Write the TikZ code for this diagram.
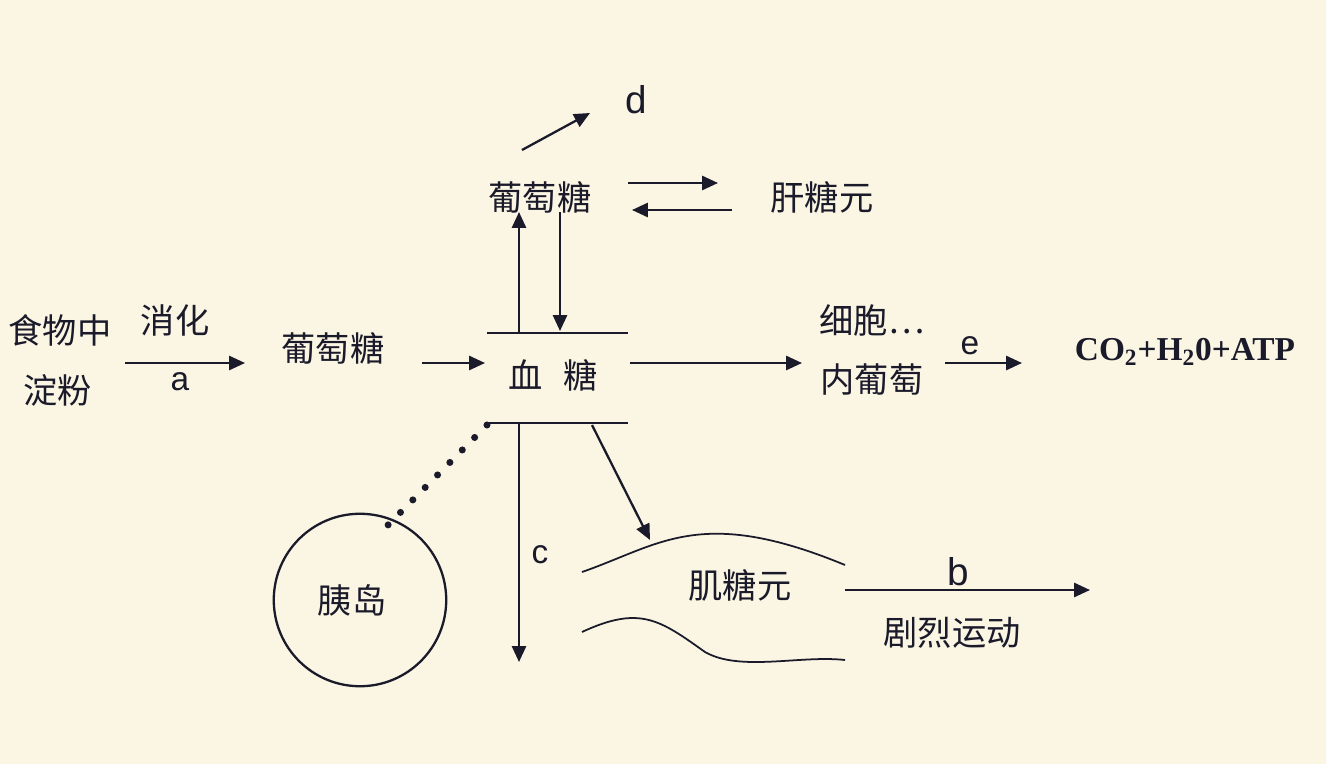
\documentclass[tikz,border=0pt]{standalone}
\usepackage{fontspec}
\setmainfont{Liberation Sans}
\newfontfamily\cjk{Noto Sans CJK SC}
\newfontfamily\serifb{Liberation Serif}
\usetikzlibrary{arrows.meta}
\definecolor{bg}{HTML}{FBF6E3}
\definecolor{ink}{HTML}{1A1A2A}
\begin{document}
\begin{tikzpicture}[x=0.02cm,y=-0.02cm,
  lbl/.style={font=\cjk\fontsize{19.5}{21}\selectfont,text=ink,inner sep=0},
  ltr/.style={font=\fontsize{19}{21}\selectfont,text=ink,inner sep=0},
  arr/.style={draw=ink,line width=1.3pt,-{Triangle[length=9pt,width=8pt]}},
  ln/.style={draw=ink,line width=1.3pt}]
\fill[bg] (0,0) rectangle (1326,764);
\useasboundingbox (0,0) rectangle (1326,764);
% left
\node[lbl] (f1) at (60,330) {食物中};
\node[lbl] (f2) at (58,390) {淀粉};
\node[lbl] (xh) at (175,320) {消化};
\coordinate (a1) at (125,363); \coordinate (a2) at (245,363);
\draw[arr] (a1) -- (a2);
\node[ltr] (a) at (180,382) {a};
\node[lbl] (g1) at (333,348) {葡萄糖};
\coordinate (b1) at (422,363); \coordinate (b2) at (485,363);
\draw[arr] (b1) -- (b2);
% blood sugar
\node[lbl] (xt) at (553,375) {血\hspace{0.6em}糖};
\coordinate (l1a) at (487,333); \coordinate (l1b) at (628,333);
\coordinate (l2a) at (487,423); \coordinate (l2b) at (628,423);
\draw[ln] (l1a) -- (l1b); \draw[ln] (l2a) -- (l2b);
% top
\node[lbl] (g2) at (540,197) {葡萄糖};
\coordinate (u1) at (519,333); \coordinate (u2) at (519,212);
\draw[arr] (u1) -- (u2);
\coordinate (dn1) at (560,212); \coordinate (dn2) at (560,331);
\draw[arr] (dn1) -- (dn2);
\node[lbl] (gt) at (822,197) {肝糖元};
\coordinate (r1) at (628,183); \coordinate (r2) at (718,183);
\draw[arr] (r1) -- (r2);
\coordinate (r3) at (732,210); \coordinate (r4) at (632,210);
\draw[arr] (r3) -- (r4);
\coordinate (d1) at (522,150); \coordinate (d2) at (590,113);
\draw[arr] (d1) -- (d2);
\node[ltr,font=\fontsize{22}{24}\selectfont] (d) at (636,100) {d};
% right
\coordinate (c1) at (630,363); \coordinate (c2) at (802,363);
\draw[arr] (c1) -- (c2);
\node[lbl] (x1) at (872,320) {细胞…};
\node[lbl] (x2) at (872,380) {内葡萄};
\coordinate (e1) at (945,363); \coordinate (e2) at (1022,363);
\draw[arr] (e1) -- (e2);
\node[ltr] (e) at (970,346) {e};
\node[inner sep=0,text=ink,font=\serifb\bfseries\fontsize{19}{21}\selectfont] (co) at (1185,352) {CO\textsubscript{2}+H\textsubscript{2}0+ATP};
% islet
\node[draw=ink,line width=1.3pt,circle,inner sep=0,minimum size=3.45cm] (yd) at (360,600) {};
\node[lbl] (ydt) at (352,600) {胰岛};
\coordinate (p1) at (487,425); \coordinate (p2) at (388,525);
\draw[ink,line width=4pt,line cap=round,dash pattern=on 0pt off 10pt] (p1) -- (p2);
% down
\coordinate (v1) at (519,423); \coordinate (v2) at (519,662);
\draw[arr] (v1) -- (v2);
\node[ltr] (c) at (540,555) {c};
\coordinate (m1) at (592,425); \coordinate (m2) at (650,540);
\draw[arr] (m1) -- (m2);
% muscle
\draw[ln,line width=1pt] (582,572) .. controls (660,545) and (700,505) .. (845,565);
\draw[ln,line width=1pt] (582,632) .. controls (640,605) and (660,620) .. (705,652) .. controls (740,672) and (800,655) .. (845,660);
\node[lbl] (jt) at (740,585) {肌糖元};
\coordinate (k1) at (845,590); \coordinate (k2) at (1090,590);
\draw[arr] (k1) -- (k2);
\node[ltr,font=\fontsize{22}{24}\selectfont] (b) at (958,572) {b};
\node[lbl] (jl) at (952,633) {剧烈运动};
\end{tikzpicture}
\end{document}
